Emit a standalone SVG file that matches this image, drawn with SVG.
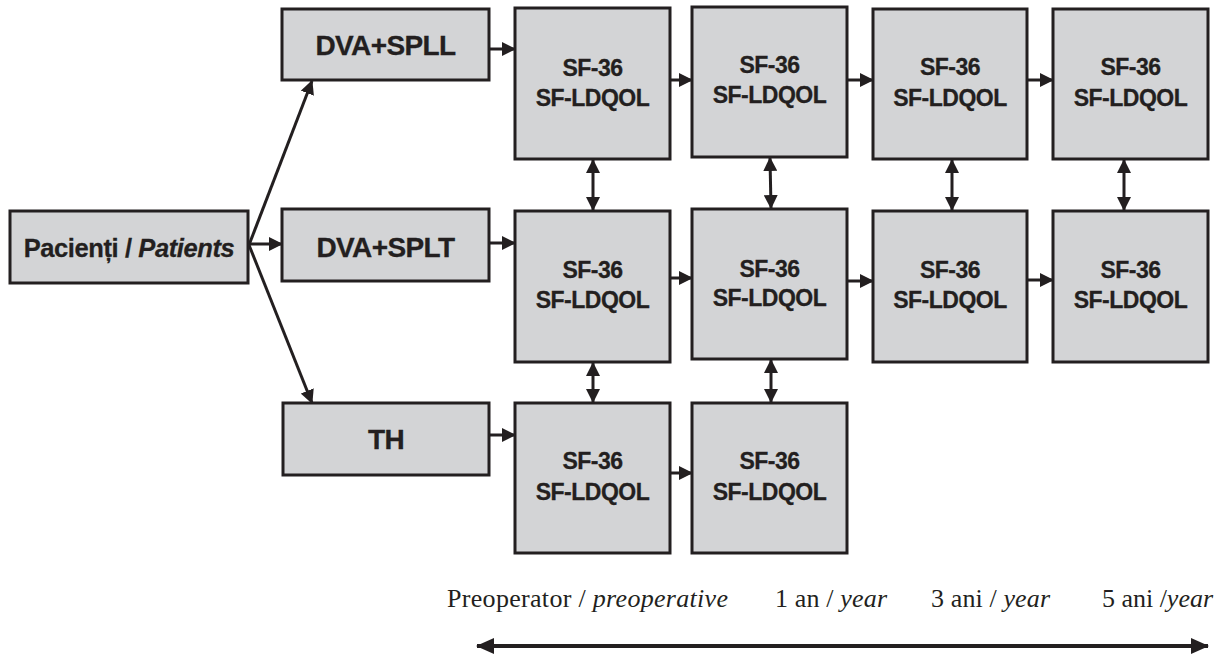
<svg xmlns="http://www.w3.org/2000/svg" width="1223" height="655" viewBox="0 0 1223 655">
<style>
.box{fill:#d3d4d6;stroke:#231f20;stroke-width:3}
.t{font-family:"Liberation Sans",Arial,sans-serif;font-weight:bold;fill:#231f20;stroke:#231f20;stroke-width:0.3;text-anchor:middle}
.sf{font-size:23px;letter-spacing:-0.5px}
.big{font-size:28px;letter-spacing:-0.6px}
.con{stroke:#231f20;stroke-width:3;fill:none}
.tl{font-family:"Liberation Serif","Times New Roman",serif;font-size:26px;fill:#231f20}
</style>
<defs>
<marker id="ah" markerUnits="userSpaceOnUse" markerWidth="14" markerHeight="14" refX="13" refY="7" orient="auto-start-reverse" viewBox="0 0 14 14">
<path d="M0,0 L14,7 L0,14 z" fill="#231f20"/>
</marker>
<marker id="ahb" markerUnits="userSpaceOnUse" markerWidth="18" markerHeight="18" refX="17" refY="9" orient="auto-start-reverse" viewBox="0 0 18 18">
<path d="M0,1 L18,9 L0,17 z" fill="#231f20"/>
</marker>
</defs>

<g id="connectors">
<line class="con" x1="249" y1="245" x2="312" y2="81" marker-end="url(#ah)"/>
<line class="con" x1="249" y1="244" x2="282" y2="244" marker-end="url(#ah)"/>
<line class="con" x1="249" y1="245" x2="312" y2="403" marker-end="url(#ah)"/>
<line class="con" x1="489" y1="49" x2="515" y2="49" marker-end="url(#ah)"/>
<line class="con" x1="670" y1="80" x2="692" y2="80" marker-end="url(#ah)"/>
<line class="con" x1="847" y1="80" x2="873" y2="80" marker-end="url(#ah)"/>
<line class="con" x1="1027" y1="80" x2="1053" y2="80" marker-end="url(#ah)"/>
<line class="con" x1="489" y1="243" x2="515" y2="243" marker-end="url(#ah)"/>
<line class="con" x1="670" y1="278" x2="692" y2="278" marker-end="url(#ah)"/>
<line class="con" x1="847" y1="281" x2="873" y2="281" marker-end="url(#ah)"/>
<line class="con" x1="1027" y1="280" x2="1053" y2="280" marker-end="url(#ah)"/>
<line class="con" x1="489" y1="435" x2="515" y2="435" marker-end="url(#ah)"/>
<line class="con" x1="670" y1="473" x2="692" y2="473" marker-end="url(#ah)"/>
<line class="con" x1="593" y1="160" x2="593" y2="210" marker-start="url(#ah)" marker-end="url(#ah)"/>
<line class="con" x1="770" y1="158" x2="771" y2="208" marker-start="url(#ah)" marker-end="url(#ah)"/>
<line class="con" x1="952" y1="160" x2="952" y2="210" marker-start="url(#ah)" marker-end="url(#ah)"/>
<line class="con" x1="1124" y1="160" x2="1124" y2="210" marker-start="url(#ah)" marker-end="url(#ah)"/>
<line class="con" x1="593" y1="363" x2="593" y2="402" marker-start="url(#ah)" marker-end="url(#ah)"/>
<line class="con" x1="771" y1="360" x2="771" y2="402" marker-start="url(#ah)" marker-end="url(#ah)"/>
<line x1="477" y1="646" x2="1208" y2="646" stroke="#231f20" stroke-width="4" marker-start="url(#ahb)" marker-end="url(#ahb)"/>
</g>

<g id="pacienti"><rect class="box" x="10" y="211" width="238" height="72"/>
<text class="t" x="129" y="257" font-size="25.5" letter-spacing="-0.4">Pacienți / <tspan font-style="italic">Patients</tspan></text></g>
<g id="dva-spll"><rect class="box" x="282" y="9" width="207" height="71"/><text class="t big" x="385.5" y="55">DVA+SPLL</text></g>
<g id="dva-splt"><rect class="box" x="282" y="209" width="207" height="72"/><text class="t big" x="385.5" y="257">DVA+SPLT</text></g>
<g id="th"><rect class="box" x="283" y="403" width="206" height="72"/><text class="t big" x="386" y="449">TH</text></g>

<g id="r1c1"><rect class="box" x="515" y="8" width="155" height="151"/><text class="t sf" x="592.5" y="76">SF-36</text><text class="t sf" x="592.5" y="106">SF-LDQOL</text></g>
<g id="r1c2"><rect class="box" x="692" y="7" width="155" height="150"/><text class="t sf" x="769.5" y="73">SF-36</text><text class="t sf" x="769.5" y="103">SF-LDQOL</text></g>
<g id="r1c3"><rect class="box" x="873" y="9" width="154" height="150"/><text class="t sf" x="950" y="75">SF-36</text><text class="t sf" x="950" y="106">SF-LDQOL</text></g>
<g id="r1c4"><rect class="box" x="1053" y="9" width="155" height="150"/><text class="t sf" x="1130.5" y="75">SF-36</text><text class="t sf" x="1130.5" y="106">SF-LDQOL</text></g>

<g id="r2c1"><rect class="box" x="515" y="211" width="155" height="151"/><text class="t sf" x="592.5" y="278">SF-36</text><text class="t sf" x="592.5" y="308">SF-LDQOL</text></g>
<g id="r2c2"><rect class="box" x="692" y="209" width="155" height="150"/><text class="t sf" x="769.5" y="277">SF-36</text><text class="t sf" x="769.5" y="306">SF-LDQOL</text></g>
<g id="r2c3"><rect class="box" x="873" y="211" width="154" height="151"/><text class="t sf" x="950" y="278">SF-36</text><text class="t sf" x="950" y="308">SF-LDQOL</text></g>
<g id="r2c4"><rect class="box" x="1053" y="211" width="155" height="151"/><text class="t sf" x="1130.5" y="278">SF-36</text><text class="t sf" x="1130.5" y="308">SF-LDQOL</text></g>

<g id="r3c1"><rect class="box" x="515" y="403" width="155" height="150"/><text class="t sf" x="592.5" y="469">SF-36</text><text class="t sf" x="592.5" y="500">SF-LDQOL</text></g>
<g id="r3c2"><rect class="box" x="692" y="403" width="155" height="150"/><text class="t sf" x="769.5" y="469">SF-36</text><text class="t sf" x="769.5" y="500">SF-LDQOL</text></g>

<g id="timeline-labels">
<text class="tl" x="447" y="607" textLength="281" lengthAdjust="spacing">Preoperator / <tspan font-style="italic">preoperative</tspan></text>
<text class="tl" x="775" y="607" textLength="112" lengthAdjust="spacing">1 an / <tspan font-style="italic">year</tspan></text>
<text class="tl" x="931" y="607" textLength="119" lengthAdjust="spacing">3 ani / <tspan font-style="italic">year</tspan></text>
<text class="tl" x="1102" y="607" textLength="111" lengthAdjust="spacing">5 ani /<tspan font-style="italic">year</tspan></text>
</g>
</svg>
